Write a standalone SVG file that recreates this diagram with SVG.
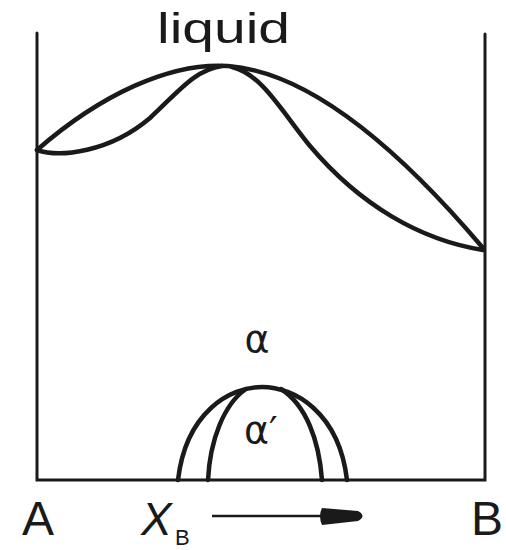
<svg xmlns="http://www.w3.org/2000/svg" width="506" height="550" viewBox="0 0 506 550">
<style>
.frame{fill:none;stroke:#1a1a1a;stroke-width:3;stroke-linecap:round}
.curve{fill:none;stroke:#1a1a1a;stroke-width:4.5;stroke-linecap:round;stroke-linejoin:round}
.lbl{font-family:"Liberation Sans",Arial,sans-serif;fill:#1a1a1a}
.gk{font-family:"DejaVu Sans","Liberation Sans",sans-serif;fill:#1a1a1a}
</style>
<rect width="506" height="550" fill="#fff"/>
<g id="frame">
<path class="frame" d="M37,33 L37,480 L485,480 L485,34"/>
</g>
<g id="liquidus">
<path class="curve" d="M37,150 C100,95 170,62 228,66 C310,72 400,150 483,248"/>
</g>
<g id="solidus">
<path class="curve" d="M37,150 C60,158 110,152 150,118 C180,90 195,70 222,66"/>
<path class="curve" d="M232,67 C262,74 282,112 310,146 C360,205 420,240 483,250"/>
</g>
<g id="alpha-dome">
<path class="curve" d="M178,480 C186,412 230,387 262,387 C294,387 339,412 347,480"/>
<path class="curve" d="M208,480 C210,440 224,404 246,389"/>
<path class="curve" d="M322,480 C319,440 306,405 281,389"/>
</g>
<g id="labels">
<text class="lbl" x="157" y="43" font-size="42" textLength="133" lengthAdjust="spacingAndGlyphs">liquid</text>
<text class="gk" x="257" y="352" font-size="38" text-anchor="middle">α</text>
<text class="gk" x="244" y="443" font-size="38">α′</text>
<text class="lbl" x="22" y="535" font-size="48">A</text>
<text class="lbl" x="471" y="535" font-size="48">B</text>
<text class="lbl" x="141" y="535" font-size="46" font-style="italic">X</text>
<text class="lbl" x="175" y="545" font-size="22">B</text>
</g>
<g id="arrow">
<line x1="212" y1="516" x2="325" y2="516" stroke="#1a1a1a" stroke-width="2.5"/>
<path d="M322,508 L358,511 Q367,516 358,521 L322,525 Q318,516 322,508 Z" fill="#1a1a1a"/>
</g>
</svg>
